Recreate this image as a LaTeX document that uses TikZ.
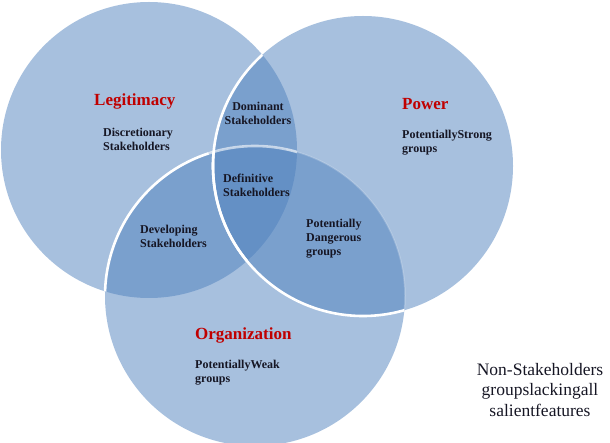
\documentclass[tikz,border=0pt]{standalone}
\usepackage{fontspec}
\setmainfont{Liberation Serif}
\usepackage{tikz}
\usetikzlibrary{positioning}
\definecolor{vennblue}{RGB}{79,129,189}
\definecolor{titlered}{RGB}{192,0,0}
\definecolor{labeltext}{RGB}{22,22,36}
\tikzset{
  venn/.style={fill=vennblue, fill opacity=0.5},
  rim/.style={draw=white, line width=2.6pt},
  title/.style={text=titlered, font=\fontsize{17}{18}\selectfont\bfseries, anchor=west, inner sep=0pt},
  region/.style={text=labeltext, font=\fontsize{12}{14}\selectfont\bfseries, align=left, anchor=west, inner sep=0pt}
}

\begin{document}
\begin{tikzpicture}[x=1pt,y=1pt]

\clip (0,0) rectangle (610,442);

% Centres
\coordinate (legit) at (149,292);
\coordinate (power) at (363,276);
\coordinate (organ) at (255,146);

% Circles
\fill[venn] (legit) circle[radius=148pt];
\fill[venn] (power) circle[radius=150pt];
\fill[venn] (organ) circle[radius=150pt];

% White rims, only where they cross another circle
\begin{scope}
\clip (legit) circle[radius=148pt];
\draw[rim] (power) circle[radius=150pt];
\draw[rim] (organ) ++(200:150pt) arc[start angle=200, end angle=108, radius=150pt];
\draw[rim, draw opacity=0.6] (organ) ++(108:150pt) arc[start angle=108, end angle=70, radius=150pt];
\end{scope}
\begin{scope}
\clip (organ) circle[radius=150pt];
\draw[rim] (power) circle[radius=150pt];
\end{scope}
\begin{scope}
\clip (power) circle[radius=150pt];
\draw[rim, draw opacity=0.2, line width=1.5pt] (organ) ++(78:150pt) arc[start angle=78, end angle=-20, radius=150pt];
\end{scope}

% Titles
\node[title] (legittitle) at (94,341) {Legitimacy};
\node[title] (powertitle) at (402,338) {Power};
\node[title] (organtitle) at (195,107) {Organization};

% Regions
\node[region] (discretionary) at (103,303) {Discretionary\\Stakeholders};
\node[region, align=center, anchor=center] (dominant) at (258,329) {Dominant\\Stakeholders};
\node[region] (definitive) at (223,257) {Definitive\\Stakeholders};
\node[region] (developing) at (140,206) {Developing\\Stakeholders};
\node[region] (dangerous) at (306,203) {Potentially\\Dangerous\\groups};
\node[region] (strong) at (402,299) {PotentiallyStrong\\groups};
\node[region] (weak) at (195,69) {PotentiallyWeak\\groups};

% Outside
\node[text=labeltext, font=\fontsize{17.5}{20.5}\selectfont, align=center, inner sep=0pt] (nonstake) at (540,52) {Non-Stakeholders\\groupslackingall\\salientfeatures};

\end{tikzpicture}
\end{document}
